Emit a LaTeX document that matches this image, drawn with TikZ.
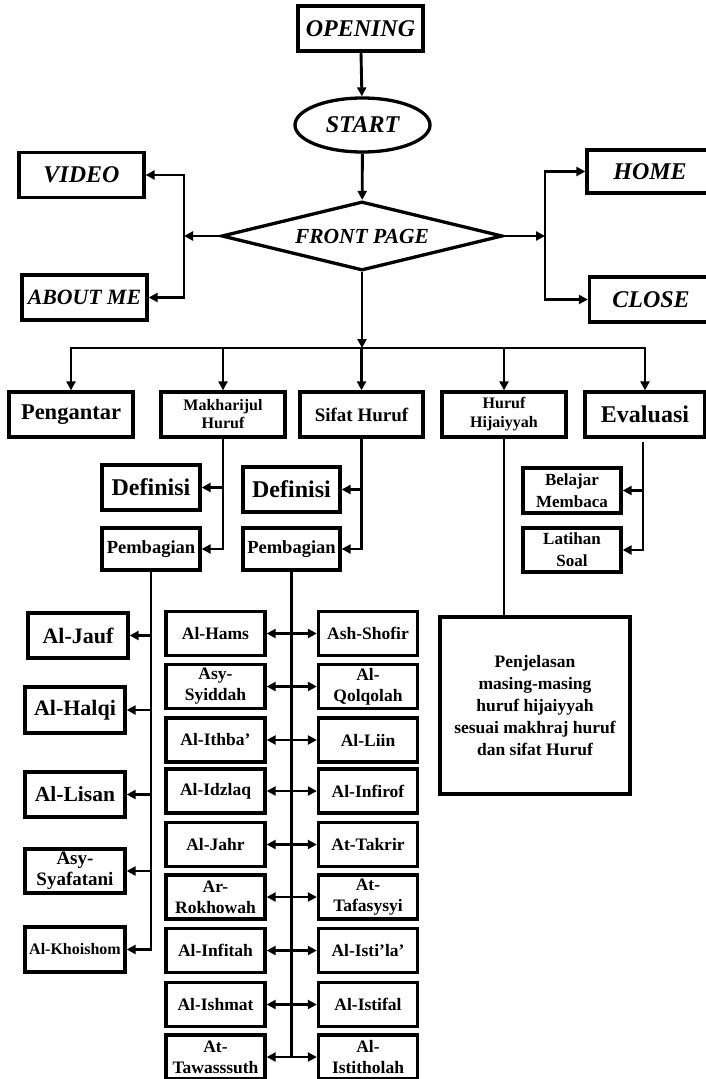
\documentclass[tikz,border=0pt]{standalone}
\usepackage{fontspec}
\setmainfont{Liberation Serif}
\usetikzlibrary{shapes,arrows.meta}

\tikzset{
  box/.style={draw,line width=3.3pt,rectangle,inner sep=0pt,align=center,font=\bfseries},
  navbox/.style={box,minimum width=125pt,minimum height=45pt,font=\fontsize{24}{26}\selectfont\bfseries\itshape},
  subbox/.style={box,minimum width=98pt,minimum height=45pt},
  partbox/.style={box,minimum width=99pt,minimum height=44pt,font=\fontsize{17.5}{21}\selectfont\bfseries},
  ln/.style={line width=2.9pt},
  arr/.style={ln,-{Triangle[length=9pt,width=9pt]}},
  dblarr/.style={ln,{Triangle[length=9pt,width=9pt]}-{Triangle[length=9pt,width=9pt]}}
}

\begin{document}
\begin{tikzpicture}[x=1pt,y=-1pt]
	\useasboundingbox (0,0) rectangle (706,1079);
	\node[navbox] (opening) at (360.5,28.5) {OPENING};
	\node[draw,ellipse,line width=3.3pt,inner sep=0pt,minimum width=135pt,minimum height=54pt,font=\fontsize{24}{26}\selectfont\bfseries\itshape] (start) at (362.5,125) {START};
	\node[draw,diamond,aspect=4,line width=3.3pt,inner sep=0pt,minimum width=281pt,minimum height=69pt,font=\fontsize{21.5}{24}\selectfont\bfseries\itshape] (front) at (362,236) {FRONT PAGE};
	\node[navbox] (video) at (81.5,175) {VIDEO};
	\node[navbox,font=\fontsize{21.8}{24}\selectfont\bfseries\itshape] (about) at (84.5,297.5) {ABOUT ME};
	\node[navbox,minimum width=126pt,minimum height=43pt] (home) at (650,171.5) {HOME};
	\node[navbox,minimum width=123pt] (close) at (651,299.5) {CLOSE};
	\coordinate (lj) at (184,236);
	\coordinate (rj) at (545,236);
	\coordinate (bus) at (362,348);
	\draw[arr] (opening) -- (start);
	\draw[arr] (start) -- (front);
	\draw[arr] (front.west) -- (lj);
	\draw[arr] (lj) |- (video.east);
	\draw[arr] (lj) |- (about.east);
	\draw[arr] (front.east) -- (rj);
	\draw[arr] (rj) |- (home.west);
	\draw[arr] (rj) |- (close.west);
	\draw[arr] (front.south) -- (bus);

	\node[box,minimum width=124pt,minimum height=45pt,font=\fontsize{22.5}{25}\selectfont\bfseries] (pengantar) at (71,414.5) {Pengantar};
	\node[box,minimum width=124pt,minimum height=45pt,font=\fontsize{16}{18}\selectfont\bfseries] (makhraj) at (223,414.5) {Makharijul\\Huruf};
	\node[box,minimum width=123pt,minimum height=45pt,font=\fontsize{19}{21}\selectfont\bfseries] (sifat) at (361.5,414.5) {Sifat Huruf};
	\node[box,minimum width=124pt,minimum height=45pt,font=\fontsize{16}{19}\selectfont\bfseries] (hijaiyyah) at (504,414.5) {Huruf\\Hijaiyyah};
	\node[box,minimum width=120pt,minimum height=45pt,font=\fontsize{24}{26}\selectfont\bfseries] (evaluasi) at (645,414.5) {Evaluasi};
	\draw[arr] (bus) -| (pengantar.north);
	\draw[arr] (bus) -| (evaluasi.north);
	\foreach \n in {makhraj,sifat,hijaiyyah}
		\draw[arr] (\n.north |- bus) -- (\n.north);

	\node[subbox,font=\fontsize{24}{26}\selectfont\bfseries] (defA) at (151,487.5) {Definisi};
	\node[subbox,minimum height=42pt,font=\fontsize{18.5}{21}\selectfont\bfseries] (pembA) at (151,549) {Pembagian};
	\node[subbox,minimum width=97pt,font=\fontsize{24}{26}\selectfont\bfseries] (defB) at (291.5,489.5) {Definisi};
	\node[subbox,minimum width=97pt,minimum height=42pt,font=\fontsize{18.5}{21}\selectfont\bfseries] (pembB) at (291.5,549) {Pembagian};
	\draw[arr] (makhraj.south) |- (pembA.east);
	\draw[arr] (makhraj.south |- defA.east) -- (defA.east);
	\draw[arr] (sifat.south) |- (pembB.east);
	\draw[arr] (sifat.south |- defB.east) -- (defB.east);

	\node[subbox,font=\fontsize{17}{22}\selectfont\bfseries] (belajar) at (572,490.5) {Belajar\\Membaca};
	\node[subbox,minimum height=44pt,font=\fontsize{17}{22}\selectfont\bfseries] (latihan) at (572,550) {Latihan\\Soal};
	\coordinate (ev) at (643,442);
	\draw[arr] (ev) |- (latihan.east);
	\draw[arr] (ev |- belajar.east) -- (belajar.east);

	\node[box,minimum width=190pt,minimum height=177pt,font=\fontsize{17.5}{22}\selectfont\bfseries] (penjelasan) at (535,705.5) {Penjelasan\\masing-masing\\huruf hijaiyyah\\sesuai makhraj huruf\\dan sifat Huruf};
	\draw[ln] (hijaiyyah.south) -- (hijaiyyah.south |- penjelasan.north);

	\node[box,minimum width=100pt,minimum height=45pt,font=\fontsize{22}{24}\selectfont\bfseries] (jauf) at (78,635.5) {Al-Jauf};
	\node[box,minimum width=100pt,minimum height=46pt,font=\fontsize{22}{24}\selectfont\bfseries] (halqi) at (75,710) {Al-Halqi};
	\node[box,minimum width=100pt,minimum height=45pt,font=\fontsize{21.5}{24}\selectfont\bfseries] (lisan) at (75,794.5) {Al-Lisan};
	\node[box,minimum width=100pt,minimum height=44pt,font=\fontsize{19}{21}\selectfont\bfseries] (syafatani) at (75,871) {Asy-\\Syafatani};
	\node[box,minimum width=100pt,minimum height=45pt,font=\fontsize{16}{18}\selectfont\bfseries] (khoishom) at (75,949.5) {Al-Khoishom};
	\draw[arr] (pembA.south) |- (khoishom.east);
	\foreach \n in {jauf,halqi,lisan,syafatani}
		\draw[arr] (pembA.south |- \n.east) -- (\n.east);

	\foreach \i/\y/\lt/\rt in {1/633.5/{Al-Hams}/{Ash-Shofir},2/686.5/{Asy-\\Syiddah}/{Al-\\Qolqolah},3/740/{Al-Ithba'}/{Al-Liin},4/791/{Al-Idzlaq}/{Al-Infirof},5/844.5/{Al-Jahr}/{At-Takrir},6/897/{Ar-\\Rokhowah}/{At-\\Tafasysyi},7/950.5/{Al-Infitah}/{Al-Isti'la'},8/1004.5/{Al-Ishmat}/{Al-Istifal},9/1057/{At-\\Tawasssuth}/{Al-\\Istitholah}}{
		\node[partbox] (l\i) at (215.5,\y) {\lt};
		\node[partbox] (r\i) at (368,\y) {\rt};
		\draw[dblarr] (l\i.east) -- (r\i.west);
	}
	\draw[ln] (pembB.south) -- (pembB.south |- l9.east);
\end{tikzpicture}
\end{document}
